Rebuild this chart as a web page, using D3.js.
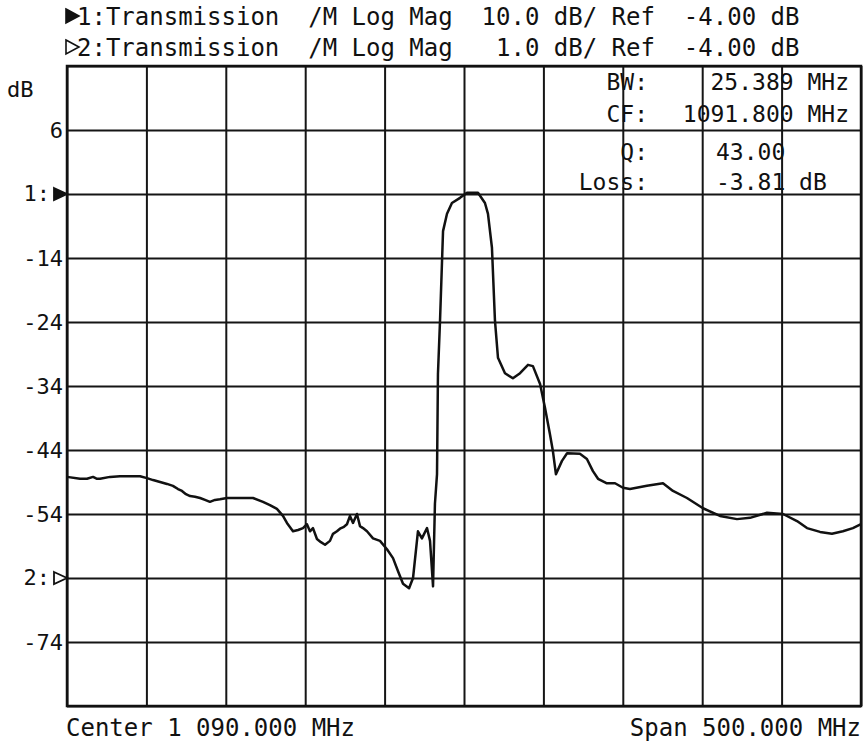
<!DOCTYPE html>
<html>
<head>
<meta charset="utf-8">
<script src="https://cdn.jsdelivr.net/npm/d3@7"></script>
<style>
  body { margin: 0; background: #fff; }
  svg text { font-family: "DejaVu Sans Mono", monospace; fill: #111; white-space: pre; }
</style>
</head>
<body>
<div id="chart"></div>
<script>
// trace 1 (10 dB/div)
var freqMHz = [840.0, 848.2, 852.6, 856.4, 858.9, 860.8, 867.1, 873.4, 879.7, 886.0,
  890.4, 894.2, 898.6, 903.0, 906.7, 909.9, 912.4, 914.9, 917.5, 920.6,
  923.8, 926.9, 930.0, 933.2, 936.3, 940.8, 948.9, 957.1, 963.4, 967.8,
  972.2, 976.0, 978.5, 982.3, 985.5, 988.6, 991.1, 993.0, 994.9, 997.4,
  999.9, 1002.5, 1005.6, 1007.5, 1010.0, 1011.9, 1014.4, 1016.3, 1018.2, 1020.1,
  1022.6, 1024.5, 1026.4, 1028.9, 1032.7, 1037.1, 1041.5, 1045.3, 1048.4, 1051.6,
  1055.4, 1057.9, 1061.0, 1063.5, 1066.7, 1068.6, 1070.5, 1071.7, 1073.0, 1073.6,
  1074.9, 1076.8, 1079.3, 1082.4, 1087.5, 1091.9, 1098.8, 1103.2, 1105.1, 1107.6,
  1109.5, 1111.4, 1115.8, 1120.8, 1125.3, 1130.3, 1133.4, 1137.9, 1141.0, 1144.1,
  1146.0, 1147.9, 1151.7, 1154.9, 1163.0, 1167.4, 1171.2, 1174.4, 1180.0, 1185.1,
  1190.1, 1194.5, 1205.2, 1215.3, 1221.6, 1230.4, 1240.5, 1251.2, 1261.9, 1270.1,
  1280.8, 1290.9, 1299.7, 1306.0, 1314.2, 1321.7, 1328.6, 1334.9, 1340.0];

var trace1dB = [-48.2, -48.5, -48.5, -48.2, -48.5, -48.5, -48.2, -48.1, -48.1, -48.1,
  -48.4, -48.7, -49.0, -49.3, -49.6, -50.1, -50.4, -50.9, -51.2, -51.3,
  -51.5, -51.8, -52.1, -51.8, -51.7, -51.5, -51.5, -51.5, -52.1, -52.6,
  -53.2, -54.3, -55.4, -56.7, -56.5, -56.2, -55.6, -56.7, -56.2, -57.9,
  -58.4, -58.8, -58.2, -57.1, -56.7, -56.3, -56.0, -55.6, -54.3, -55.4,
  -54.0, -55.9, -56.2, -56.7, -57.8, -58.2, -59.5, -60.9, -62.9, -64.9,
  -65.6, -64.0, -56.7, -57.8, -56.2, -58.2, -65.3, -52.4, -47.8, -32.1,
  -23.8, -9.8, -7.1, -5.4, -4.6, -3.8, -3.8, -5.4, -7.1, -12.4,
  -23.8, -29.6, -32.0, -32.8, -32.0, -30.7, -30.9, -33.7, -37.4, -41.5,
  -44.2, -47.8, -45.7, -44.5, -44.6, -45.4, -47.3, -48.5, -49.2, -49.2,
  -49.9, -50.1, -49.6, -49.2, -50.4, -51.5, -53.1, -54.3, -54.8, -54.6,
  -53.8, -54.0, -55.1, -56.2, -56.8, -57.1, -56.7, -56.2, -55.6];

var xGrid = [840, 890, 940, 990, 1040, 1090, 1140, 1190, 1240, 1290, 1340];
var yGrid = [16, 6, -4, -14, -24, -34, -44, -54, -64, -74, -84];
var yTickVals = [6, -14, -24, -34, -44, -54, -74];
var yTickText = ["6", "-14", "-24", "-34", "-44", "-54", "-74"];

var header1 = "1:Transmission  /M Log Mag  10.0 dB/ Ref  -4.00 dB";
var header2 = "2:Transmission  /M Log Mag   1.0 dB/ Ref  -4.00 dB";
var markerLabels = ["BW:", "CF:", "Q:", "Loss:"];
var markerValues = ["25.389 MHz", "1091.800 MHz", "43.00", "-3.81 dB"];

var W = 864, H = 742;
var margin = {top: 66, right: 3, bottom: 36, left: 67},
    width = W - margin.left - margin.right,
    height = H - margin.top - margin.bottom;

var svg = d3.select("#chart").append("svg")
    .attr("width", W)
    .attr("height", H);

var g = svg.append("g")
    .attr("transform", "translate(" + margin.left + "," + margin.top + ")");

var x = d3.scaleLinear().domain([840, 1340]).range([0, width]);
var y = d3.scaleLinear().domain([-84, 16]).range([height, 0]);

// vertical grid
g.append("g")
  .attr("class", "xgrid")
  .attr("transform", "translate(0," + height + ")")
  .call(d3.axisBottom(x).tickValues(xGrid).tickSize(height).tickSizeInner(-height).tickFormat(""));

// horizontal grid
g.append("g")
  .attr("class", "ygrid")
  .call(d3.axisLeft(y).tickValues(yGrid).tickSize(-width).tickFormat(""));

g.selectAll(".domain").remove();
g.selectAll(".tick line").attr("stroke", "#151515").attr("stroke-width", 2);

// y labels
var yl = g.append("g")
  .call(d3.axisLeft(y).tickValues(yTickVals).tickSize(0).tickPadding(4)
    .tickFormat(function(d, i) { return yTickText[i]; }));
yl.select(".domain").remove();
yl.selectAll("text").style("font-size", "22px").attr("fill", "#111");

// border
g.append("rect")
  .attr("width", width).attr("height", height)
  .attr("fill", "none").attr("stroke", "#111").attr("stroke-width", 2.5);

// reference markers on the left
function refMarker(val, label, filled) {
  var yy = margin.top + y(val);
  svg.append("text").attr("x", 50).attr("y", yy).attr("dy", "0.32em")
    .attr("text-anchor", "end").style("font-size", "22px").text(label);
  svg.append("path")
    .attr("d", "M" + (margin.left - 13) + "," + (yy - 6) + "L" + margin.left + "," + yy + "L" + (margin.left - 13) + "," + (yy + 6) + "Z")
    .attr("fill", filled ? "#111" : "#fff").attr("stroke", "#111").attr("stroke-width", 1.8);
}
refMarker(-4, "1:", true);
refMarker(-64, "2:", false);

svg.append("text").attr("x", 7).attr("y", 97).style("font-size", "22px").text("dB");

// trace
var pts = freqMHz.map(function(f, i) { return {f: f, v: trace1dB[i]}; });
g.append("path")
  .datum(pts)
  .attr("fill", "none")
  .attr("stroke", "#111")
  .attr("stroke-width", 2.5)
  .attr("stroke-linejoin", "round")
  .attr("d", d3.line().x(function(d) { return x(d.f); }).y(function(d) { return y(d.v); }));

// header
function headMarker(cy, filled) {
  svg.append("path")
    .attr("d", "M66," + (cy - 7) + "L79," + cy + "L66," + (cy + 7) + "Z")
    .attr("fill", filled ? "#111" : "#fff").attr("stroke", "#111").attr("stroke-width", 1.6);
}
headMarker(16, true);
headMarker(47, false);
svg.append("text").attr("x", 77).attr("y", 25).style("font-size", "24px").text(header1);
svg.append("text").attr("x", 77).attr("y", 56).style("font-size", "24px").text(header2);

// marker readout
var rowY = [90, 122, 160, 190];
markerLabels.forEach(function(t, i) {
  svg.append("text").attr("x", 648).attr("y", rowY[i]).attr("text-anchor", "end")
    .style("font-size", "23px").text(t);
});
markerValues.forEach(function(t, i) {
  var s = svg.append("text").attr("y", rowY[i]).style("font-size", "23px").text(t);
  if (i < 2) s.attr("x", 849).attr("text-anchor", "end");
  else s.attr("x", 716);
});

// footer
svg.append("text").attr("x", 66).attr("y", 736).style("font-size", "24px").text("Center 1 090.000 MHz");
svg.append("text").attr("x", 861).attr("y", 736).attr("text-anchor", "end").style("font-size", "24px").text("Span 500.000 MHz");
</script>
</body>
</html>
